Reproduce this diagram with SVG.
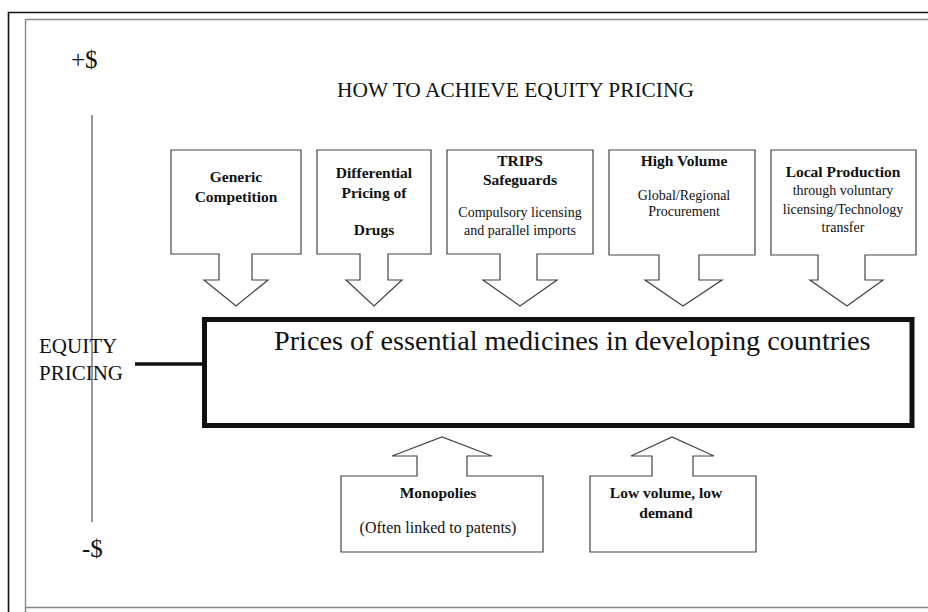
<svg xmlns="http://www.w3.org/2000/svg" width="928" height="612" viewBox="0 0 928 612" font-family="'Liberation Serif', 'Times New Roman', 'DejaVu Serif', serif">
<style>
text{font-family:"Liberation Serif","Times New Roman","DejaVu Serif",serif;fill:#111}
.b{font-weight:bold;font-size:15.5px;text-anchor:middle}
.r{font-size:14px;text-anchor:middle}
.shape{fill:#fff;stroke:#444;stroke-width:1.2}
</style>
<rect width="928" height="612" fill="#fff"/>
<g id="frame">
<path d="M8.5 612 V12.5 H928" fill="none" stroke="#111" stroke-width="1.6"/>
<path d="M25.5 612 V19.5 H928 M25.5 607.5 H928" fill="none" stroke="#888" stroke-width="1.4"/>
</g>
<g id="axis">
<line x1="92" y1="115" x2="92" y2="522" stroke="#555" stroke-width="1.2"/>
<text x="71" y="68" font-size="25">+$</text>
<text x="82" y="557" font-size="25">-$</text>
<text x="39" y="353" font-size="21" fill="#222">EQUITY</text>
<text x="39" y="380" font-size="21" fill="#222">PRICING</text>
</g>
<text id="title" x="337" y="97" font-size="21.4">HOW TO ACHIEVE EQUITY PRICING</text>
<g id="connectors">
<line x1="135" y1="364" x2="204" y2="364" stroke="#111" stroke-width="3.5"/>
</g>
<g id="main">
<rect x="204.5" y="319.5" width="707.5" height="106" fill="none" stroke="#111" stroke-width="5"/>
<text x="274" y="350" font-size="28.2">Prices of essential medicines in developing countries</text>
</g>
<g id="generic">
<path class="shape" d="M171 150 H301 V254 H252 V280 H268 L236 306 L204 280 H219 V254 H171 Z"/>
<text class="b" x="236" y="182">Generic</text>
<text class="b" x="236" y="202">Competition</text>
</g>
<g id="differential">
<path class="shape" d="M317 150 H431 V254 H388 V280 H402 L374 306 L346 280 H360 V254 H317 Z"/>
<text class="b" x="374" y="178">Differential</text>
<text class="b" x="374" y="198">Pricing of</text>
<text class="b" x="374" y="235">Drugs</text>
</g>
<g id="trips">
<path class="shape" d="M447 150 H593 V254 H537 V280 H557 L520 306 L483 280 H500 V254 H447 Z"/>
<text class="b" x="520" y="166">TRIPS</text>
<text class="b" x="520" y="185">Safeguards</text>
<text class="r" x="520" y="217">Compulsory licensing</text>
<text class="r" x="520" y="235">and parallel imports</text>
</g>
<g id="highvolume">
<path class="shape" d="M609 150 H755 V255 H699 V280 H722 L683 306 L645 280 H659 V255 H609 Z"/>
<text class="b" x="684" y="166">High Volume</text>
<text class="r" x="684" y="200">Global/Regional</text>
<text class="r" x="684" y="216">Procurement</text>
</g>
<g id="localproduction">
<path class="shape" d="M771 150 H916 V255 H865 V280 H883 L847 306 L810 280 H818 V255 H771 Z"/>
<text class="b" x="843" y="177">Local Production</text>
<text class="r" x="843" y="195">through voluntary</text>
<text class="r" x="843" y="214">licensing/Technology</text>
<text class="r" x="843" y="232">transfer</text>
</g>
<g id="monopolies">
<path class="shape" d="M341 552 H543 V476 H467 V456 H492 L442 437 L392 456 H417 V476 H341 Z"/>
<text class="b" x="438" y="498">Monopolies</text>
<text class="r" x="438" y="533" style="font-size:16px">(Often linked to patents)</text>
</g>
<g id="lowvolume">
<path class="shape" d="M590 552 H756 V476 H693 V456 H714 L672 437 L631 456 H652 V476 H590 Z"/>
<text class="b" x="666" y="498">Low volume, low</text>
<text class="b" x="666" y="518">demand</text>
</g>
</svg>
